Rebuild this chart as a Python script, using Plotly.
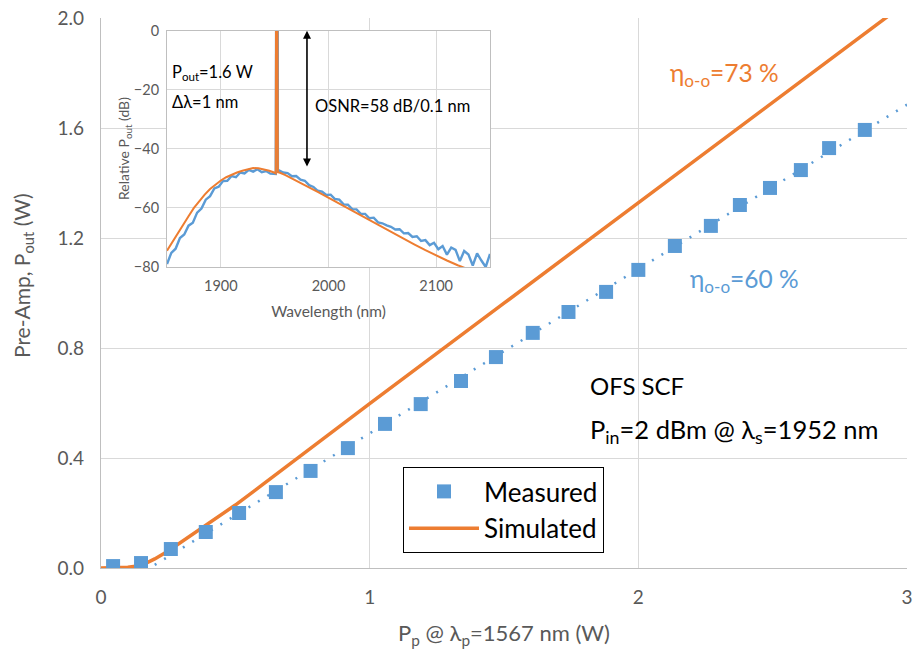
import numpy as np
import plotly.graph_objects as go

# ---------------- main chart data ----------------
meas_pump = [0.045, 0.149, 0.26, 0.39, 0.514, 0.651, 0.78, 0.919, 1.057, 1.19, 1.34, 1.47,
             1.607, 1.74, 1.88, 2.0, 2.136, 2.27, 2.378, 2.49, 2.605, 2.71, 2.843]
meas_pout = [0.007, 0.018, 0.069, 0.131, 0.2, 0.276, 0.353, 0.436, 0.524, 0.596, 0.68, 0.767,
             0.855, 0.931, 1.004, 1.084, 1.171, 1.244, 1.32, 1.382, 1.447, 1.527, 1.593]

sim_pump = [0, 0.05, 0.1, 0.15, 0.2, 0.25, 0.3, 0.4, 0.5, 0.6, 0.7, 0.8, 1.0, 1.5, 2.0, 2.5, 2.93]
sim_pout = [0, 0.001, 0.003, 0.009, 0.033, 0.062, 0.095, 0.16, 0.229, 0.302, 0.377, 0.452,
            0.598, 0.963, 1.328, 1.693, 2.007]

trend_range = [0.2, 3.0]

# ---------------- inset spectra data ----------------
meas_wl = list(range(1850, 2151, 4))
meas_db = [-79.0, -75.2, -73.8, -70.2, -69.0, -66.0, -65.0, -61.6, -60.2, -57.2, -56.0, -53.4,
           -52.8, -50.9, -50.8, -49.2, -49.6, -48.0, -48.3, -47.1, -47.7, -46.9, -47.9, -47.5,
           -48.4, -48.6, -47.3, -48.0, -48.2, -49.3, -49.2, -50.4, -50.8, -52.3, -52.9, -54.2,
           -54.5, -55.6, -55.5, -57.0, -57.2, -58.8, -58.9, -60.4, -60.5, -62.0, -62.0, -63.5,
           -63.3, -64.9, -65.2, -65.9, -66.4, -67.3, -67.2, -68.6, -68.5, -69.8, -69.6, -71.2,
           -70.9, -72.6, -71.8, -74.0, -72.9, -75.8, -73.4, -74.2, -78.0, -74.6, -75.8, -79.5,
           -75.4, -77.8, -80.0, -75.6]
meas_peak_wl = [1951.0, 1951.4, 1952.8, 1953.0]
meas_peak_db = [-48.5, 10, 10, -47.5]

sim_wl = [1850, 1855, 1860, 1865, 1870, 1875, 1880, 1885, 1890, 1895, 1900, 1905, 1910, 1915,
          1920, 1925, 1930, 1935, 1940, 1945, 1950, 1951, 1951.3, 1952.5, 1953, 1955, 1960,
          1965, 1970, 1975, 1980, 1985, 1990, 1995, 2000, 2010, 2020, 2030, 2040, 2050, 2060,
          2070, 2080, 2090, 2100, 2110, 2120, 2130, 2140, 2150]
sim_db = [-74.5, -71.5, -68.6, -65.6, -62.8, -60.0, -57.6, -55.5, -53.6, -52.0, -50.7, -49.6,
          -48.7, -48.0, -47.4, -46.9, -46.5, -46.6, -46.9, -47.4, -48.1, -48.3, 10, 10, -47.9,
          -48.1, -48.9, -49.8, -50.7, -51.6, -52.6, -53.6, -54.6, -55.6, -56.6, -58.6, -60.6,
          -62.6, -64.6, -66.5, -68.5, -70.5, -72.4, -74.3, -76.1, -77.8, -79.4, -80.9, -82.3,
          -83.6]

main_xticks = [0, 1, 2, 3]
main_yticks = [0.0, 0.4, 0.8, 1.2, 1.6, 2.0]
inset_xticks = [1900, 2000, 2100]
inset_yticks = [0, -20, -40, -60, -80]

BLUE = "#5B9BD5"
ORANGE = "#ED7D31"
GRAY = "#595959"
GRID = "#D9D9D9"
FONT = "Lato"

# combine measured spectrum with its peak, sorted
pairs = sorted(list(zip(meas_wl, meas_db)) + list(zip(meas_peak_wl, meas_peak_db)))
mwl = [p[0] for p in pairs]
mdb = [p[1] for p in pairs]

# linear trendline of the measured data (as in the original spreadsheet)
coef = np.polyfit(meas_pump[2:], meas_pout[2:], 1)
trend_y = [coef[0] * v + coef[1] for v in trend_range]

fig = go.Figure()

fig.add_trace(go.Scatter(x=trend_range, y=trend_y, mode="lines",
                         line=dict(color=BLUE, width=2.5, dash="2px,9px"),
                         showlegend=False, hoverinfo="skip"))
fig.add_trace(go.Scatter(x=sim_pump, y=sim_pout, mode="lines", name="Simulated",
                         line=dict(color=ORANGE, width=3.5), legendgroup="b", legendrank=2))
fig.add_trace(go.Scatter(x=meas_pump, y=meas_pout, mode="markers", name="Measured",
                         marker=dict(symbol="square", size=14, color=BLUE),
                         legendgroup="a", legendrank=1))

# inset
fig.add_trace(go.Scatter(x=mwl, y=mdb, mode="lines", line=dict(color=BLUE, width=2.4),
                         xaxis="x2", yaxis="y2", showlegend=False))
fig.add_trace(go.Scatter(x=sim_wl, y=sim_db, mode="lines", line=dict(color=ORANGE, width=2),
                         xaxis="x2", yaxis="y2", showlegend=False))

fig.add_shape(type="rect", xref="x2", yref="y2", x0=1850, x1=2150, y0=-80, y1=0,
              fillcolor="white", line=dict(width=0), layer="below")

W, H = 914, 650
L, R, T, B = 101, 7, 18, 82


def px2paper(px, py):
    return (px - L) / (W - L - R), (H - B - py) / (H - T - B)


ann = []
ann.append(dict(x=2.11, y=1.793, xref="x", yref="y", xanchor="left", yanchor="middle",
                text="η<sub>o-o</sub>=73 %", showarrow=False, font=dict(size=24.5, color=ORANGE)))
ann.append(dict(x=2.185, y=1.047, xref="x", yref="y", xanchor="left", yanchor="middle",
                text="η<sub>o-o</sub>=60 %", showarrow=False, font=dict(size=24.5, color=BLUE)))
ann.append(dict(x=1.812, y=0.665, xref="x", yref="y", xanchor="left", yanchor="middle",
                text="OFS SCF", showarrow=False, font=dict(size=24, color="black")))
ann.append(dict(x=1.812, y=0.5, xref="x", yref="y", xanchor="left", yanchor="middle",
                text="P<sub>in</sub>=2 dBm @ λ<sub>s</sub>=1952 nm", showarrow=False,
                font=dict(size=25.5, color="black")))
# main axis titles
yx, yy = px2paper(23, 276)
ann.append(dict(x=yx, y=yy, xref="paper", yref="paper", xanchor="center", yanchor="middle",
                text="Pre-Amp, P<sub>out</sub> (W)", textangle=-90, showarrow=False,
                font=dict(size=21, color=GRAY)))
xx, xy = px2paper(504, 634)
ann.append(dict(x=xx, y=xy, xref="paper", yref="paper", xanchor="center", yanchor="middle",
                text="P<sub>p</sub> @ λ<sub>p</sub>=1567 nm (W)", showarrow=False,
                font=dict(size=22, color=GRAY)))
# inset y title
ix, iy = px2paper(124, 149)
ann.append(dict(x=ix, y=iy, xref="paper", yref="paper", xanchor="center", yanchor="middle",
                text="Relative P<sub>out</sub> (dB)", textangle=-90, showarrow=False,
                font=dict(size=14, color=GRAY)))
# inset annotations
ann.append(dict(x=1853, y=-14, xref="x2", yref="y2", xanchor="left", yanchor="middle",
                text="P<sub>out</sub>=1.6 W", showarrow=False, font=dict(size=16.5, color="black")))
ann.append(dict(x=1853, y=-24, xref="x2", yref="y2", xanchor="left", yanchor="middle",
                text="Δλ=1 nm", showarrow=False, font=dict(size=16.5, color="black")))
ann.append(dict(x=1986, y=-25.5, xref="x2", yref="y2", xanchor="left", yanchor="middle",
                text="OSNR=58 dB/0.1 nm", showarrow=False, font=dict(size=16.5, color="black")))
ann.append(dict(x=1980, y=0, xref="x2", yref="y2", ax=1980, ay=-46.5, axref="x2", ayref="y2",
                text="", showarrow=True, arrowhead=2, arrowside="end+start", arrowsize=1,
                arrowwidth=1.6, arrowcolor="black"))

fig.update_layout(
    width=W, height=H,
    margin=dict(l=L, r=R, t=T, b=B, pad=0, autoexpand=False),
    paper_bgcolor="white", plot_bgcolor="white",
    font=dict(family=FONT, color=GRAY),
    showlegend=True,
    legend=dict(x=(403 - L) / (W - L - R), y=(H - B - 467) / (H - T - B),
                xanchor="left", yanchor="top",
                bgcolor="white", bordercolor="black", borderwidth=1,
                font=dict(size=26, color="black"), itemwidth=70,
                tracegroupgap=0, traceorder="grouped"),
    annotations=ann,
    xaxis=dict(range=[0, 3], tickvals=main_xticks, ticktext=[str(v) for v in main_xticks],
               showgrid=True, gridcolor=GRID, gridwidth=1.3, zeroline=False,
               showline=True, linecolor="#BFBFBF", linewidth=1.3, ticks="",
               automargin=False, ticklabelstandoff=12, tickfont=dict(size=19, color=GRAY)),
    yaxis=dict(range=[0, 2.0], tickvals=main_yticks, ticktext=[f"{v:.1f}" for v in main_yticks],
               showgrid=True, gridcolor=GRID, gridwidth=1.3, zeroline=False,
               showline=True, linecolor="#BFBFBF", linewidth=1.3, ticks="",
               automargin=False, ticklabelstandoff=12, tickfont=dict(size=19, color=GRAY)),
    xaxis2=dict(domain=[(167 - L) / (W - L - R), (490 - L) / (W - L - R)], anchor="y2",
                range=[1850, 2150],
                tickvals=inset_xticks, showgrid=True, gridcolor=GRID, zeroline=False,
                showline=True, mirror=True, linecolor="#BFBFBF", ticks="",
                automargin=False, ticklabelstandoff=6, tickfont=dict(size=14.5, color=GRAY),
                title=dict(text="Wavelength (nm)", standoff=12, font=dict(size=15.5, color=GRAY))),
    yaxis2=dict(domain=[(H - B - 267) / (H - T - B), (H - B - 30.7) / (H - T - B)], anchor="x2",
                range=[-80, 0],
                tickvals=inset_yticks, showgrid=True, gridcolor=GRID, zeroline=False,
                showline=True, mirror=True, linecolor="#BFBFBF", ticks="",
                automargin=False, ticklabelstandoff=4, tickfont=dict(size=14.5, color=GRAY)),
)

fig.write_html("out.html", config={"displayModeBar": False},
               post_script="document.body.style.margin='0px';")
